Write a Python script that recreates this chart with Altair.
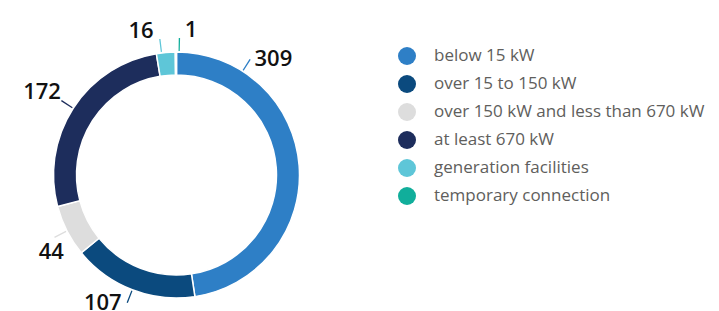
import altair as alt
import pandas as pd

categories = [
    "below 15 kW",
    "over 15 to 150 kW",
    "over 150 kW and less than 670 kW",
    "at least 670 kW",
    "generation facilities",
    "temporary connection",
]
values = [309, 107, 44, 172, 16, 1]
colors = ["#2E7FC6", "#0B4A7E", "#DDDDDD", "#1D2D5C", "#5EC6D8", "#11AE9B"]

# layout tweaks for the outside labels (degrees relative to slice middle, px)
label_shift_deg = [-45.8, 8.8, -4.5, -1.2, -8.9, 6.0]
label_radius = [151, 148, 147, 158, 148, 146]
line_shift_deg = [-53.2, 0.0, 0.0, 0.0, -2.0, 1.5]

total = sum(values)
cx, cy = 168.5, 167
r_in, r_out = 100, 123

cum = []
s = 0
for v in values:
    cum.append(s + v / 2.0)
    s += v
deg = total / 360.0
half = 0.28 * deg

df = pd.DataFrame({
    "category": categories,
    "value": values,
    "idx": list(range(len(values))),
    "col": colors,
    "ta": [(m + d * deg) % total for m, d in zip(cum, label_shift_deg)],
    "lr": label_radius,
    "t1": [(m + d * deg) - half for m, d in zip(cum, line_shift_deg)],
    "t2": [(m + d * deg) + half for m, d in zip(cum, line_shift_deg)],
})

theta_scale = alt.Scale(domain=[0, total])
FONT = "Open Sans"

base = alt.Chart(df)

arcs = base.mark_arc(innerRadius=r_in, outerRadius=r_out, stroke="white", strokeWidth=1.5).encode(
    theta=alt.Theta("value:Q", stack=True, scale=theta_scale),
    color=alt.Color(
        "category:N",
        scale=alt.Scale(domain=categories, range=colors),
        sort=categories,
        legend=alt.Legend(
            title=None,
            orient="none",
            legendX=390,
            legendY=39,
            symbolType="circle",
            symbolSize=324,
            symbolStrokeWidth=0,
            labelFont=FONT,
            labelFontSize=17,
            labelColor="#605E5C",
            labelOffset=18,
            labelLimit=500,
            rowPadding=10,
            padding=0,
        ),
    ),
    order=alt.Order("idx:Q"),
    x=alt.value(cx),
    y=alt.value(cy),
)

lines = base.mark_arc(innerRadius=r_out + 1, outerRadius=r_out + 14).encode(
    theta=alt.Theta("t1:Q", scale=theta_scale),
    theta2=alt.Theta2("t2:Q"),
    color=alt.Color("col:N", scale=None),
    x=alt.value(cx),
    y=alt.value(cy),
)

labels = base.mark_text(
    font=FONT, fontSize=22, fontWeight=600, color="#111111", align="center", baseline="middle"
).encode(
    theta=alt.Theta("ta:Q", stack=False, scale=theta_scale),
    radius=alt.Radius("lr:Q", scale=None),
    text=alt.Text("value:Q"),
    x=alt.value(cx),
    y=alt.value(cy),
)

chart = (
    alt.layer(arcs, lines, labels)
    .properties(width=703, height=303, padding=0, autosize=alt.AutoSizeParams(type="none"))
    .configure_view(stroke=None)
)

chart.save("out.html", embed_options={"renderer": "svg", "actions": False})
